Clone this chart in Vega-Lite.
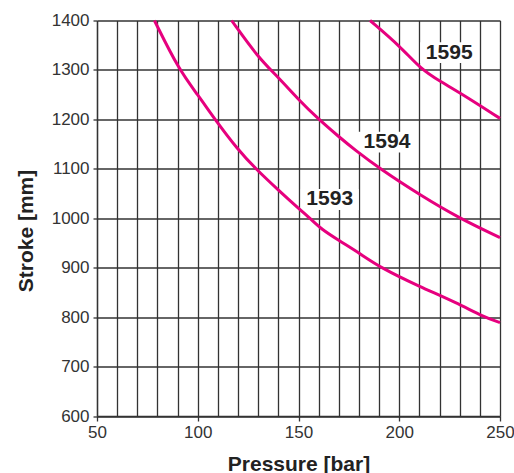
{
  "$schema": "https://vega.github.io/schema/vega-lite/v6.json",
  "width": 403,
  "height": 395.5,
  "autosize": {"type": "none"},
  "padding": {"left": 97, "top": 20.5, "right": 14, "bottom": 57},
  "background": "white",
  "config": {"view": {"stroke": null}, "font": "Liberation Sans"},
  "datasets": {
    "curves": [
      {"series": "1593", "pressure": 78.5, "stroke": 1400},
      {"series": "1593", "pressure": 90.7, "stroke": 1300},
      {"series": "1593", "pressure": 100, "stroke": 1250},
      {"series": "1593", "pressure": 108.5, "stroke": 1200},
      {"series": "1593", "pressure": 120, "stroke": 1138},
      {"series": "1593", "pressure": 128.8, "stroke": 1100},
      {"series": "1593", "pressure": 140, "stroke": 1057},
      {"series": "1593", "pressure": 150, "stroke": 1020},
      {"series": "1593", "pressure": 157, "stroke": 995},
      {"series": "1593", "pressure": 161, "stroke": 979},
      {"series": "1593", "pressure": 170, "stroke": 955},
      {"series": "1593", "pressure": 180, "stroke": 930},
      {"series": "1593", "pressure": 190.7, "stroke": 900},
      {"series": "1593", "pressure": 210, "stroke": 862},
      {"series": "1593", "pressure": 228.5, "stroke": 829},
      {"series": "1593", "pressure": 242, "stroke": 800},
      {"series": "1593", "pressure": 250, "stroke": 789},
      {"series": "1594", "pressure": 116.8, "stroke": 1400},
      {"series": "1594", "pressure": 130, "stroke": 1325},
      {"series": "1594", "pressure": 140, "stroke": 1285},
      {"series": "1594", "pressure": 150, "stroke": 1240},
      {"series": "1594", "pressure": 160, "stroke": 1200},
      {"series": "1594", "pressure": 170, "stroke": 1165},
      {"series": "1594", "pressure": 178, "stroke": 1138},
      {"series": "1594", "pressure": 190.4, "stroke": 1100},
      {"series": "1594", "pressure": 210.3, "stroke": 1047},
      {"series": "1594", "pressure": 229.8, "stroke": 1000},
      {"series": "1594", "pressure": 250, "stroke": 961},
      {"series": "1595", "pressure": 185.5, "stroke": 1400},
      {"series": "1595", "pressure": 200.7, "stroke": 1347},
      {"series": "1595", "pressure": 210.6, "stroke": 1302},
      {"series": "1595", "pressure": 220.6, "stroke": 1276},
      {"series": "1595", "pressure": 230.5, "stroke": 1253},
      {"series": "1595", "pressure": 250, "stroke": 1202}
    ],
    "labels": [
      {"series": "1593", "pressure": 165.5, "stroke": 1038},
      {"series": "1594", "pressure": 193.9, "stroke": 1154},
      {"series": "1595", "pressure": 224.8, "stroke": 1335}
    ]
  },
  "encoding": {
    "x": {
      "field": "pressure",
      "type": "quantitative",
      "scale": {"domain": [50, 250], "nice": false, "zero": false},
      "axis": {
        "title": "Pressure [bar]",
        "values": [50, 60, 70, 80, 90, 100, 110, 120, 130, 140, 150, 160, 170, 180, 190, 200, 210, 220, 230, 240, 250],
        "labelExpr": "datum.value % 50 == 0 ? datum.label : ''",
        "grid": true,
        "gridColor": "#333",
        "gridWidth": 1.3,
        "gridOpacity": 1,
        "domainColor": "#333",
        "domainWidth": 1.3,
        "tickSize": 5,
        "tickWidth": 1.3,
        "tickColor": {"condition": {"test": "datum.value % 50 == 0", "value": "#333"}, "value": "transparent"},
        "labelFontSize": 17,
        "labelColor": "#333",
        "labelPadding": 3,
        "labelFlush": false,
        "labelOverlap": false,
        "titleFontSize": 21,
        "titleFontWeight": "bold",
        "titleColor": "#222",
        "titleBaseline": "alphabetic",
        "titleY": 54
      }
    },
    "y": {
      "field": "stroke",
      "type": "quantitative",
      "scale": {"domain": [600, 1400], "nice": false, "zero": false},
      "axis": {
        "title": "Stroke [mm]",
        "format": "d",
        "values": [600, 700, 800, 900, 1000, 1100, 1200, 1300, 1400],
        "grid": true,
        "gridColor": "#333",
        "gridWidth": 1.3,
        "gridOpacity": 1,
        "domainColor": "#333",
        "domainWidth": 1.3,
        "tickSize": 4,
        "tickWidth": 1.3,
        "tickColor": "#333",
        "labelFontSize": 17,
        "labelColor": "#333",
        "labelPadding": 4,
        "labelFlush": false,
        "labelOverlap": false,
        "titleFontSize": 21,
        "titleFontWeight": "bold",
        "titleColor": "#222",
        "titleBaseline": "alphabetic",
        "titleX": -64.5,
        "titleY": 210
      }
    }
  },
  "layer": [
    {
      "data": {"name": "labels"},
      "mark": {"type": "point", "shape": "M-1,-0.36H1V0.36H-1Z", "filled": true, "fill": "white", "strokeWidth": 0, "opacity": 1, "size": 3364}
    },
    {
      "data": {"name": "curves"},
      "mark": {"type": "line", "color": "#E6007E", "strokeWidth": 3, "interpolate": "basis"},
      "encoding": {"detail": {"field": "series"}, "order": {"field": "pressure", "type": "quantitative"}}
    },
    {
      "data": {"name": "labels"},
      "mark": {"type": "text", "fontWeight": "bold", "fontSize": 21, "color": "#222", "align": "center", "baseline": "middle"},
      "encoding": {"text": {"field": "series"}}
    }
  ]
}
